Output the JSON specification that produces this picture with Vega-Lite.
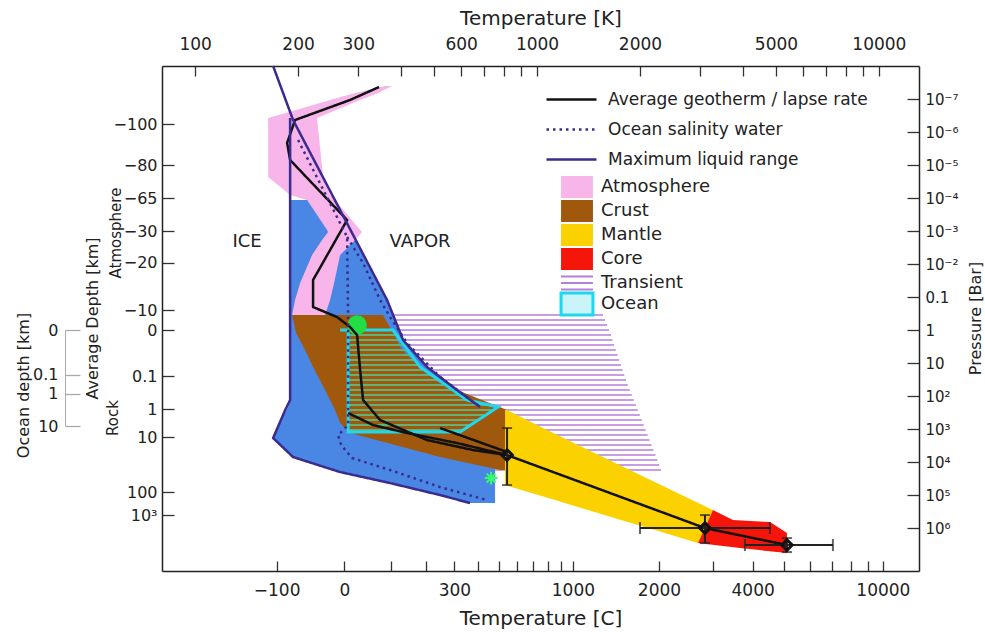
{
  "$schema": "https://vega.github.io/schema/vega-lite/v6.json",
  "width": 757,
  "height": 505,
  "autosize": {"type": "none"},
  "padding": {"left": 162, "top": 66, "right": 66, "bottom": 64},
  "background": "white",
  "config": {
    "font": "DejaVu Sans",
    "view": {"stroke": null},
    "axis": {"grid": false, "domainColor": "#222", "domainWidth": 1.5, "tickColor": "#333", "tickWidth": 1.3, "labelColor": "#222", "titleColor": "#222", "titleFontWeight": "normal", "labelFlush": false, "labelOverlap": false, "labelBound": false},
    "legend": {"padding": 0, "offset": 0, "labelColor": "#222", "symbolOpacity": 1, "labelLimit": 400}
  },
  "datasets": {
    "transient": [
      {"P": 0.351, "T": 300, "T2": 1560}, {"P": 0.498, "T": 300, "T2": 1581}, {"P": 0.706, "T": 300, "T2": 1603}, {"P": 1, "T": 300, "T2": 1624},
      {"P": 1.418, "T": 300, "T2": 1646}, {"P": 2.009, "T": 300, "T2": 1662}, {"P": 2.848, "T": 300, "T2": 1681}, {"P": 4.037, "T": 300, "T2": 1700},
      {"P": 5.722, "T": 300, "T2": 1720}, {"P": 8.111, "T": 300, "T2": 1740}, {"P": 11.5, "T": 300, "T2": 1759}, {"P": 16.3, "T": 300, "T2": 1780},
      {"P": 23.1, "T": 300, "T2": 1800}, {"P": 32.75, "T": 300, "T2": 1821}, {"P": 46.42, "T": 300, "T2": 1843}, {"P": 65.79, "T": 300, "T2": 1868},
      {"P": 93.26, "T": 300, "T2": 1893}, {"P": 132.2, "T": 300, "T2": 1919}, {"P": 187.4, "T": 300, "T2": 1945}, {"P": 265.6, "T": 300, "T2": 1971},
      {"P": 376.6, "T": 300, "T2": 1998}, {"P": 533.7, "T": 300, "T2": 2025}, {"P": 756.5, "T": 300, "T2": 2052}, {"P": 1072, "T": 300, "T2": 2079},
      {"P": 1520, "T": 300, "T2": 2106}, {"P": 2154, "T": 300, "T2": 2134}, {"P": 3054, "T": 300, "T2": 2162}, {"P": 4329, "T": 300, "T2": 2190},
      {"P": 6136, "T": 300, "T2": 2220}, {"P": 8697, "T": 300, "T2": 2248}, {"P": 12330, "T": 300, "T2": 2277}, {"P": 17470, "T": 300, "T2": 2304}
    ],
    "refline": [{"P": 1}],
    "liquid": [
      {"P": 1.15e-4, "T": 189.6, "T2": 256.6}, {"P": 3.77e-3, "T": 189.6, "T2": 305.8}, {"P": 0.123, "T": 189.6, "T2": 364.3},
      {"P": 2.01, "T": 189.6, "T2": 405.8}, {"P": 13.2, "T": 189.6, "T2": 476.9}, {"P": 65.8, "T": 189.6, "T2": 583.6},
      {"P": 132, "T": 189.6, "T2": 624.2}, {"P": 215, "T": 187.1, "T2": 753.9}, {"P": 533.7, "T": 178.4, "T2": 753.9},
      {"P": 1874, "T": 169.1, "T2": 753.9}, {"P": 7055, "T": 193.4, "T2": 753.9}, {"P": 20090, "T": 265.5, "T2": 753.9},
      {"P": 43290, "T": 371.7, "T2": 753.9}, {"P": 100000, "T": 520.6, "T2": 753.9}, {"P": 175000, "T": 637.0, "T2": 753.9}
    ],
    "regions": [
      {"region": "Atmosphere", "P": 4.04e-8, "T": 359.4, "T2": 376.7},
      {"region": "Atmosphere", "P": 6.58e-8, "T": 293.7, "T2": 342.8},
      {"region": "Atmosphere", "P": 1.07e-7, "T": 248.1, "T2": 303.8},
      {"region": "Atmosphere", "P": 2.15e-7, "T": 197.4, "T2": 258.4},
      {"region": "Atmosphere", "P": 3.77e-7, "T": 163.5, "T2": 227.3},
      {"region": "Atmosphere", "P": 2.31e-5, "T": 163.5, "T2": 236.7},
      {"region": "Atmosphere", "P": 8.11e-5, "T": 189.6, "T2": 248.1},
      {"region": "Atmosphere", "P": 1.15e-4, "T": 212.6, "T2": 256.6},
      {"region": "Atmosphere", "P": 9.33e-4, "T": 243.2, "T2": 303.8},
      {"region": "Atmosphere", "P": 1.07e-3, "T": 244.8, "T2": 307.9},
      {"region": "Atmosphere", "P": 1.87e-3, "T": 235.1, "T2": 293.7},
      {"region": "Atmosphere", "P": 5.34e-3, "T": 219.8, "T2": 265.5},
      {"region": "Atmosphere", "P": 0.0377, "T": 202.8, "T2": 255.0},
      {"region": "Atmosphere", "P": 0.123, "T": 196.0, "T2": 248.1},
      {"region": "Atmosphere", "P": 0.351, "T": 192.1, "T2": 239.9},
      {"region": "Crust", "P": 0.351, "T": 192.1, "T2": 354.6},
      {"region": "Crust", "P": 1.233, "T": 197.4, "T2": 379.3},
      {"region": "Crust", "P": 4.04, "T": 209.7, "T2": 403.0},
      {"region": "Crust", "P": 13.2, "T": 221.3, "T2": 454.9},
      {"region": "Crust", "P": 65.8, "T": 239.9, "T2": 583.6},
      {"region": "Crust", "P": 266, "T": 256.6, "T2": 817.3},
      {"region": "Crust", "P": 658, "T": 265.5, "T2": 817.3},
      {"region": "Crust", "P": 1322, "T": 284.0, "T2": 817.3},
      {"region": "Crust", "P": 3054, "T": 384.5, "T2": 817.3},
      {"region": "Crust", "P": 7055, "T": 520.6, "T2": 817.3},
      {"region": "Crust", "P": 17460, "T": 779.6, "T2": 817.3},
      {"region": "Mantle", "P": 266, "T": 806.3, "T2": 817.3},
      {"region": "Mantle", "P": 1072, "T": 806.3, "T2": 1069.6},
      {"region": "Mantle", "P": 8697, "T": 806.3, "T2": 1623.7},
      {"region": "Mantle", "P": 49770, "T": 806.3, "T2": 2304.3},
      {"region": "Mantle", "P": 142000, "T": 1128.8, "T2": 2839.3},
      {"region": "Mantle", "P": 285000, "T": 1409.6, "T2": 3270},
      {"region": "Mantle", "P": 572000, "T": 1760.5, "T2": 3173},
      {"region": "Mantle", "P": 1150000, "T": 2213, "T2": 3078},
      {"region": "Mantle", "P": 2850000, "T": 2956.7, "T2": 2956.7},
      {"region": "Core", "P": 285000, "T": 3270, "T2": 3270},
      {"region": "Core", "P": 572000, "T": 3173, "T2": 3742},
      {"region": "Core", "P": 658000, "T": 3154, "T2": 4801},
      {"region": "Core", "P": 1420000, "T": 3050, "T2": 5383},
      {"region": "Core", "P": 2850000, "T": 2957, "T2": 5383},
      {"region": "Core", "P": 3510000, "T": 3499, "T2": 5383},
      {"region": "Core", "P": 4040000, "T": 3923, "T2": 5383},
      {"region": "Core", "P": 5720000, "T": 5383, "T2": 5383}
    ],
    "oceanhatch": [
      {"P": 1.418, "T": 280, "T2": 393.9}, {"P": 2.009, "T": 280, "T2": 403.0}, {"P": 2.848, "T": 280, "T2": 412.3}, {"P": 4.037, "T": 280, "T2": 421.6},
      {"P": 5.722, "T": 280, "T2": 431.4}, {"P": 8.111, "T": 280, "T2": 441.3}, {"P": 11.5, "T": 280, "T2": 450.6}, {"P": 16.3, "T": 280, "T2": 468.2},
      {"P": 23.1, "T": 280, "T2": 491.2}, {"P": 32.75, "T": 280, "T2": 515.2}, {"P": 46.42, "T": 280, "T2": 540.4}, {"P": 65.79, "T": 280, "T2": 567.2},
      {"P": 93.26, "T": 280, "T2": 595.1}, {"P": 132.2, "T": 280, "T2": 624.2}, {"P": 187.4, "T": 280, "T2": 723.9}, {"P": 265.6, "T": 280, "T2": 745.7},
      {"P": 376.6, "T": 280, "T2": 708.6}, {"P": 533.7, "T": 280, "T2": 673.2}, {"P": 756.5, "T": 280, "T2": 639.7}, {"P": 1072, "T": 280, "T2": 607.6}
    ],
    "oceanoutline": [
      {"i": 0, "T": 265.5, "P": 1}, {"i": 1, "T": 379.3, "P": 1}, {"i": 2, "T": 454.9, "P": 13.2}, {"i": 3, "T": 624.2, "P": 132},
      {"i": 4, "T": 769.2, "P": 215}, {"i": 5, "T": 595.5, "P": 1233}, {"i": 6, "T": 280.2, "P": 1233}, {"i": 7, "T": 280.2, "P": 1}
    ],
    "surface": [{"T": 297.7, "P": 0.705}],
    "lines": [
      {"series": "Average geotherm / lapse rate", "path": "g1", "i": 0, "T": 345.1, "P": 4.33e-8},
      {"series": "Average geotherm / lapse rate", "path": "g1", "i": 1, "T": 284.0, "P": 1.07e-7},
      {"series": "Average geotherm / lapse rate", "path": "g1", "i": 2, "T": 196.0, "P": 4.33e-7},
      {"series": "Average geotherm / lapse rate", "path": "g1", "i": 3, "T": 185.8, "P": 2.15e-6},
      {"series": "Average geotherm / lapse rate", "path": "g1", "i": 4, "T": 189.6, "P": 7.05e-6},
      {"series": "Average geotherm / lapse rate", "path": "g1", "i": 5, "T": 278.3, "P": 4.64e-4},
      {"series": "Average geotherm / lapse rate", "path": "g1", "i": 6, "T": 221.3, "P": 0.0305},
      {"series": "Average geotherm / lapse rate", "path": "g1", "i": 7, "T": 221.3, "P": 0.201},
      {"series": "Average geotherm / lapse rate", "path": "g1", "i": 8, "T": 260.1, "P": 0.404},
      {"series": "Average geotherm / lapse rate", "path": "g1", "i": 9, "T": 284.0, "P": 0.811},
      {"series": "Average geotherm / lapse rate", "path": "g1", "i": 10, "T": 297.7, "P": 1.42},
      {"series": "Average geotherm / lapse rate", "path": "g1", "i": 11, "T": 303.8, "P": 16.3},
      {"series": "Average geotherm / lapse rate", "path": "g1", "i": 12, "T": 309.9, "P": 132},
      {"series": "Average geotherm / lapse rate", "path": "g1", "i": 13, "T": 347.5, "P": 533},
      {"series": "Average geotherm / lapse rate", "path": "g1", "i": 14, "T": 476.9, "P": 2154},
      {"series": "Average geotherm / lapse rate", "path": "g1", "i": 15, "T": 650.1, "P": 4329},
      {"series": "Average geotherm / lapse rate", "path": "g1", "i": 16, "T": 817.3, "P": 6136},
      {"series": "Average geotherm / lapse rate", "path": "g1", "i": 17, "T": 3099, "P": 1000000},
      {"series": "Average geotherm / lapse rate", "path": "g1", "i": 18, "T": 5383, "P": 3270000},
      {"series": "Average geotherm / lapse rate", "path": "g2", "i": 0, "T": 280.2, "P": 327},
      {"series": "Average geotherm / lapse rate", "path": "g2", "i": 1, "T": 331.5, "P": 757},
      {"series": "Average geotherm / lapse rate", "path": "g2", "i": 2, "T": 416.9, "P": 1322},
      {"series": "Average geotherm / lapse rate", "path": "g2", "i": 3, "T": 583.6, "P": 2656},
      {"series": "Average geotherm / lapse rate", "path": "g2", "i": 4, "T": 817.3, "P": 6136},
      {"series": "Average geotherm / lapse rate", "path": "g3", "i": 0, "T": 520.6, "P": 933},
      {"series": "Average geotherm / lapse rate", "path": "g3", "i": 1, "T": 817.3, "P": 4977},
      {"series": "Ocean salinity water", "path": "d1", "i": 0, "T": 200.1, "P": 1.75e-6},
      {"series": "Ocean salinity water", "path": "d1", "i": 1, "T": 278.3, "P": 1.52e-3},
      {"series": "Ocean salinity water", "path": "d1", "i": 2, "T": 280.2, "P": 0.404},
      {"series": "Ocean salinity water", "path": "d1", "i": 3, "T": 280.2, "P": 757},
      {"series": "Ocean salinity water", "path": "d1", "i": 4, "T": 261.9, "P": 1520},
      {"series": "Ocean salinity water", "path": "d1", "i": 5, "T": 267.3, "P": 3054},
      {"series": "Ocean salinity water", "path": "d1", "i": 6, "T": 287.9, "P": 7564},
      {"series": "Ocean salinity water", "path": "d1", "i": 7, "T": 371.7, "P": 17460},
      {"series": "Ocean salinity water", "path": "d1", "i": 8, "T": 520.6, "P": 57290},
      {"series": "Ocean salinity water", "path": "d1", "i": 9, "T": 714.3, "P": 142000},
      {"series": "Ocean salinity water", "path": "d2", "i": 0, "T": 278.3, "P": 1.52e-3},
      {"series": "Ocean salinity water", "path": "d2", "i": 1, "T": 309.9, "P": 9.33e-3},
      {"series": "Ocean salinity water", "path": "d2", "i": 2, "T": 347.5, "P": 0.123},
      {"series": "Ocean salinity water", "path": "d2", "i": 3, "T": 371.7, "P": 0.404},
      {"series": "Ocean salinity water", "path": "d2", "i": 4, "T": 416.9, "P": 2.48},
      {"series": "Ocean salinity water", "path": "d2", "i": 5, "T": 520.6, "P": 26.6},
      {"series": "Ocean salinity water", "path": "d2", "i": 6, "T": 681.4, "P": 215},
      {"series": "Maximum liquid range", "path": "n1", "i": 0, "T": 169.1, "P": 1e-8},
      {"series": "Maximum liquid range", "path": "n1", "i": 1, "T": 193.4, "P": 4.33e-7},
      {"series": "Maximum liquid range", "path": "n1", "i": 2, "T": 364.3, "P": 0.123},
      {"series": "Maximum liquid range", "path": "n1", "i": 3, "T": 405.8, "P": 2.01},
      {"series": "Maximum liquid range", "path": "n1", "i": 4, "T": 476.9, "P": 13.2},
      {"series": "Maximum liquid range", "path": "n1", "i": 5, "T": 583.6, "P": 65.8},
      {"series": "Maximum liquid range", "path": "n1", "i": 6, "T": 681.4, "P": 215},
      {"series": "Maximum liquid range", "path": "n2", "i": 0, "T": 189.6, "P": 3.77e-7},
      {"series": "Maximum liquid range", "path": "n2", "i": 1, "T": 189.6, "P": 132},
      {"series": "Maximum liquid range", "path": "n2", "i": 2, "T": 183.4, "P": 266},
      {"series": "Maximum liquid range", "path": "n2", "i": 3, "T": 169.1, "P": 1874},
      {"series": "Maximum liquid range", "path": "n2", "i": 4, "T": 193.4, "P": 7055},
      {"series": "Maximum liquid range", "path": "n2", "i": 5, "T": 265.5, "P": 20090},
      {"series": "Maximum liquid range", "path": "n2", "i": 6, "T": 371.7, "P": 43290},
      {"series": "Maximum liquid range", "path": "n2", "i": 7, "T": 520.6, "P": 100000},
      {"series": "Maximum liquid range", "path": "n2", "i": 8, "T": 637.0, "P": 175000}
    ],
    "errh": [{"T": 2001, "T2": 4801, "P": 1000000}, {"T": 4057, "T2": 7337, "P": 3270000}],
    "errv": [{"T": 817.3, "P": 933, "P2": 49770}, {"T": 3099, "P": 404000, "P2": 2850000}, {"T": 5383, "P": 2010000, "P2": 5340000}],
    "layers": [{"T": 817.3, "P": 6136}, {"T": 3099, "P": 1000000}, {"T": 5383, "P": 3270000}],
    "star": [{"T": 733.9, "P": 30540}],
    "annot": [{"label": "ICE", "T": 141.9, "P": 0.00215}, {"label": "VAPOR", "T": 455, "P": 0.00215}],
    "side": [{"label": "Atmosphere", "T": 58.8, "P": 0.00115}, {"label": "Rock", "T": 57.5, "P": 464}],
    "oceanaxis": [{"P": 1}]
  },
  "layer": [
    {
      "encoding": {
        "x": {"field": "T", "type": "quantitative", "scale": {"type": "log", "domain": [80, 13100], "nice": false},
          "axis": {"orient": "top", "title": "Temperature [K]", "values": [100, 200, 300, 400, 500, 600, 700, 800, 900, 1000, 2000, 3000, 4000, 5000, 6000, 7000, 8000, 9000, 10000],
            "labelExpr": "indexof([100,200,300,600,1000,2000,5000,10000], datum.value) >= 0 ? format(datum.value, 'd') : ''",
            "tickSize": -10, "labelPadding": 23, "labelFontSize": 17, "titleFontSize": 20, "titleY": -48, "titleBaseline": "middle"}},
        "y": {"field": "P", "type": "quantitative", "scale": {"type": "log", "domain": [1e-8, 2e7], "nice": false, "reverse": true},
          "axis": {"orient": "right", "title": "Pressure [Bar]", "values": [1e-7, 1e-6, 1e-5, 1e-4, 1e-3, 1e-2, 0.1, 1, 10, 100, 1000, 10000, 100000, 1000000],
            "labelExpr": "datum.value < 3e-7 ? '10⁻⁷' : datum.value < 3e-6 ? '10⁻⁶' : datum.value < 3e-5 ? '10⁻⁵' : datum.value < 3e-4 ? '10⁻⁴' : datum.value < 3e-3 ? '10⁻³' : datum.value < 3e-2 ? '10⁻²' : datum.value < 0.3 ? '0.1' : datum.value < 3 ? '1' : datum.value < 30 ? '10' : datum.value < 300 ? '10²' : datum.value < 3000 ? '10³' : datum.value < 30000 ? '10⁴' : datum.value < 300000 ? '10⁵' : '10⁶'",
            "tickSize": -12, "labelPadding": 18, "labelFontSize": 15, "titleFontSize": 16, "titleX": 56, "titleY": 252, "titleAngle": 270, "titleBaseline": "middle", "titleAlign": "center"}}
      },
      "layer": [
        {"data": {"name": "transient"}, "mark": {"type": "rule", "color": "#b57edc", "strokeWidth": 1.6}, "encoding": {"x2": {"field": "T2"}}},
        {"data": {"name": "refline"}, "mark": {"type": "rule", "color": "#777777", "strokeWidth": 1.5}, "encoding": {"x": {"datum": 80}, "x2": {"datum": 13100}}},
        {"data": {"name": "liquid"}, "mark": {"type": "area", "orient": "horizontal", "fill": "#4a87e4", "opacity": 1}, "encoding": {"x2": {"field": "T2"}}},
        {"data": {"name": "regions"}, "mark": {"type": "area", "orient": "horizontal", "opacity": 1},
          "encoding": {"x2": {"field": "T2"},
            "fill": {"field": "region", "type": "nominal",
              "scale": {"domain": ["Atmosphere", "Crust", "Mantle", "Core", "Transient", "Ocean"], "range": ["#f7b5ea", "#a0580c", "#fcd100", "#f5150a", "transparent", "#c8f4fa"]},
              "legend": {"orient": "none", "legendX": 406, "legendY": 112, "title": null, "symbolType": "M-1.45,-1H1.45V1H-1.45Z", "symbolSize": 484, "labelFontSize": 18, "labelOffset": 15, "rowPadding": -7,
                "encode": {"symbols": {"update": {
                  "shape": {"signal": "datum.value === 'Transient' ? 'M-1.45,-0.6H1.45M-1.45,0H1.45M-1.45,0.6H1.45' : 'M-1.45,-1H1.45V1H-1.45Z'"},
                  "stroke": {"signal": "datum.value === 'Transient' ? '#b57edc' : datum.value === 'Ocean' ? '#1fd8ee' : 'transparent'"},
                  "strokeWidth": {"signal": "datum.value === 'Ocean' ? 3 : 2"}}}}}}}},
        {"data": {"name": "oceanhatch"}, "mark": {"type": "rule", "color": "#62b07a", "strokeWidth": 2}, "encoding": {"x2": {"field": "T2"}}},
        {"data": {"name": "oceanoutline"}, "mark": {"type": "line", "color": "#1fd8ee", "strokeWidth": 3}, "encoding": {"order": {"field": "i", "type": "quantitative"}}},
        {"data": {"name": "surface"}, "mark": {"type": "point", "shape": "circle", "filled": true, "fill": "#22dd44", "size": 380, "opacity": 1, "strokeWidth": 0}},
        {"data": {"name": "lines"}, "mark": {"type": "line", "strokeWidth": 2.5, "strokeJoin": "round"},
          "encoding": {
            "detail": {"field": "path", "type": "nominal"},
            "order": {"field": "i", "type": "quantitative"},
            "stroke": {"field": "series", "type": "nominal",
              "scale": {"domain": ["Average geotherm / lapse rate", "Ocean salinity water", "Maximum liquid range"], "range": ["#111111", "#3b2b8f", "#3b2b8f"]},
              "legend": {"orient": "none", "legendX": 398, "legendY": 22, "title": null, "symbolType": "M-2.5,0H2.5", "symbolSize": 400, "symbolStrokeWidth": 2.5, "labelFontSize": 17, "labelOffset": 25, "rowPadding": 10, "labelLimit": 400}},
            "strokeDash": {"field": "series", "type": "nominal",
              "scale": {"domain": ["Average geotherm / lapse rate", "Ocean salinity water", "Maximum liquid range"], "range": [[1, 0], [2.5, 4], [1, 0]]},
              "legend": {"orient": "none", "legendX": 398, "legendY": 22, "title": null, "symbolType": "M-2.5,0H2.5", "symbolSize": 400, "symbolStrokeWidth": 2.5, "labelFontSize": 17, "labelOffset": 25, "rowPadding": 10, "labelLimit": 400}}
          }},
        {"data": {"name": "errh"}, "mark": {"type": "errorbar", "ticks": true, "size": 12, "thickness": 2, "color": "#222"}, "encoding": {"x2": {"field": "T2"}}},
        {"data": {"name": "errv"}, "mark": {"type": "errorbar", "ticks": true, "size": 10, "thickness": 2, "color": "#222"}, "encoding": {"y2": {"field": "P2"}}},
        {"data": {"name": "layers"}, "mark": {"type": "point", "shape": "diamond", "filled": false, "stroke": "#111", "strokeWidth": 3, "size": 110, "opacity": 1}},
        {"data": {"name": "star"}, "mark": {"type": "point", "shape": "M-1,0H1M0,-1V1M-0.7,-0.7L0.7,0.7M-0.7,0.7L0.7,-0.7", "filled": false, "stroke": "#33ff66", "strokeWidth": 2, "size": 160, "opacity": 1}}
      ]
    },
    {
      "encoding": {
        "x": {"field": "T", "type": "quantitative", "scale": {"type": "log", "domain": [80, 13100], "nice": false},
          "axis": {"orient": "bottom", "title": "Temperature [C]",
            "values": [173.15, 273.15, 373.15, 473.15, 573.15, 673.15, 773.15, 873.15, 973.15, 1073.15, 1173.15, 1273.15, 2273.15, 3273.15, 4273.15, 5273.15, 6273.15, 7273.15, 8273.15, 9273.15, 10273.15],
            "labelExpr": "indexof([-100,0,300,1000,2000,4000,10000], round(datum.value - 273.15)) >= 0 ? format(round(datum.value - 273.15), 'd') : ''",
            "tickSize": -10, "labelPadding": 21, "labelFontSize": 17, "titleFontSize": 20, "titleY": 47, "titleBaseline": "middle"}},
        "y": {"field": "P", "type": "quantitative", "scale": {"type": "log", "domain": [1e-8, 2e7], "nice": false, "reverse": true},
          "axis": {"orient": "left", "title": "Average Depth [km]", "values": [5.72e-7, 1e-5, 1e-4, 1e-3, 0.0093, 0.248, 1, 24.8, 248, 1748, 81100, 404000],
            "labelExpr": "datum.value < 3e-6 ? '−100' : datum.value < 3e-5 ? '−80' : datum.value < 3e-4 ? '−65' : datum.value < 3e-3 ? '−30' : datum.value < 0.03 ? '−20' : datum.value < 0.5 ? '−10' : datum.value < 3 ? '0' : datum.value < 100 ? '0.1' : datum.value < 1000 ? '1' : datum.value < 10000 ? '10' : datum.value < 200000 ? '100' : '10³'",
            "tickSize": -12, "labelPadding": 17, "labelFontSize": 16, "titleFontSize": 16, "titleX": -70, "titleY": 252, "titleAngle": 270, "titleBaseline": "middle", "titleAlign": "center"}}
      },
      "layer": [
        {"data": {"name": "annot"}, "mark": {"type": "text", "fontSize": 18, "color": "#222", "align": "center", "baseline": "middle"}, "encoding": {"text": {"field": "label", "type": "nominal"}}},
        {"data": {"name": "side"}, "mark": {"type": "text", "fontSize": 15, "color": "#222", "angle": 270, "align": "center", "baseline": "middle"}, "encoding": {"text": {"field": "label", "type": "nominal"}}}
      ]
    },
    {
      "data": {"name": "oceanaxis"},
      "mark": {"type": "point", "opacity": 0},
      "encoding": {
        "y": {"field": "P", "type": "quantitative", "scale": {"type": "log", "domain": [1, 933], "range": [264, 360], "nice": false},
          "axis": {"orient": "left", "offset": 97, "title": "Ocean depth [km]", "values": [1, 24.5, 93.3, 933],
            "labelExpr": "datum.value < 3 ? '0' : datum.value < 50 ? '0.1' : datum.value < 300 ? '1' : '10'",
            "tickSize": -15, "labelPadding": 22, "labelFontSize": 16, "titleFontSize": 16, "titleX": -42, "titleY": 319, "titleAngle": 270, "titleBaseline": "middle", "titleAlign": "center",
            "domainColor": "#aaaaaa", "tickColor": "#aaaaaa", "domainWidth": 1}}
      }
    }
  ],
  "resolve": {"scale": {"x": "independent", "y": "independent"}}
}
